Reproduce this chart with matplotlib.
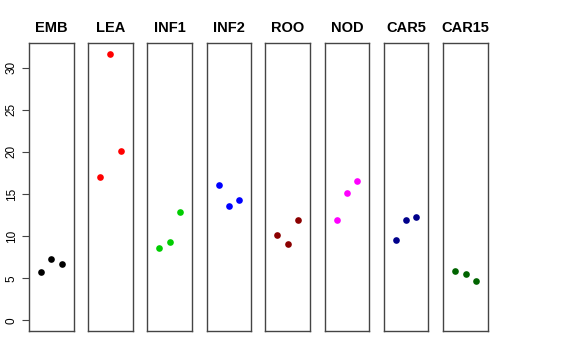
import matplotlib
matplotlib.use("Agg")
import matplotlib.pyplot as plt

plt.rcParams['font.family'] = ['Liberation Sans', 'DejaVu Sans']

# panel names, colours and values
names = ["EMB", "LEA", "INF1", "INF2", "ROO", "NOD", "CAR5", "CAR15"]
colors = ["black", "red", "#00CD00", "blue", "#8B0000", "magenta", "#00008B", "#006400"]
emb = [5.77, 7.24, 6.65]
lea = [17.06, 31.67, 20.07]
inf1 = [8.59, 9.26, 12.9]
inf2 = [16.1, 13.54, 14.29]
roo = [10.09, 9.03, 11.88]
nod = [11.88, 15.12, 16.58]
car5 = [9.54, 11.95, 12.3]
car15 = [5.89, 5.46, 4.7]
values = [emb, lea, inf1, inf2, roo, nod, car5, car15]
xs = [1, 2, 3]
yticks = [0, 5, 10, 15, 20, 25, 30]

W, H = 576, 360
fig = plt.figure(figsize=(W / 100, H / 100), dpi=100)

lefts = [29, 88, 147.3, 206.7, 265.3, 324.7, 383.7, 443.3]
pw = 44.6
top, bottom = 43, 331

for i, name in enumerate(names):
    ax = fig.add_axes([lefts[i] / W, (H - bottom) / H, pw / W, (bottom - top) / H])
    ax.plot(xs, values[i], "o", color=colors[i], markersize=4.8, markeredgewidth=0)
    ax.set_xlim(-0.16, 4.16)
    ax.set_ylim(-1.27, 32.93)
    ax.set_xticks([])
    ax.set_title(name, fontsize=10.5, fontweight="bold", pad=8)
    for s in ax.spines.values():
        s.set_color("#444444")
        s.set_linewidth(1.0)
    if i == 0:
        ax.set_yticks(yticks)
        ax.set_yticklabels([str(t) for t in yticks], rotation=90, va="center", fontsize=8.5)
        ax.tick_params(axis="y", length=5, width=0.8, color="#444444", pad=3)
    else:
        ax.set_yticks([])

fig.savefig("out.png", dpi=100)
